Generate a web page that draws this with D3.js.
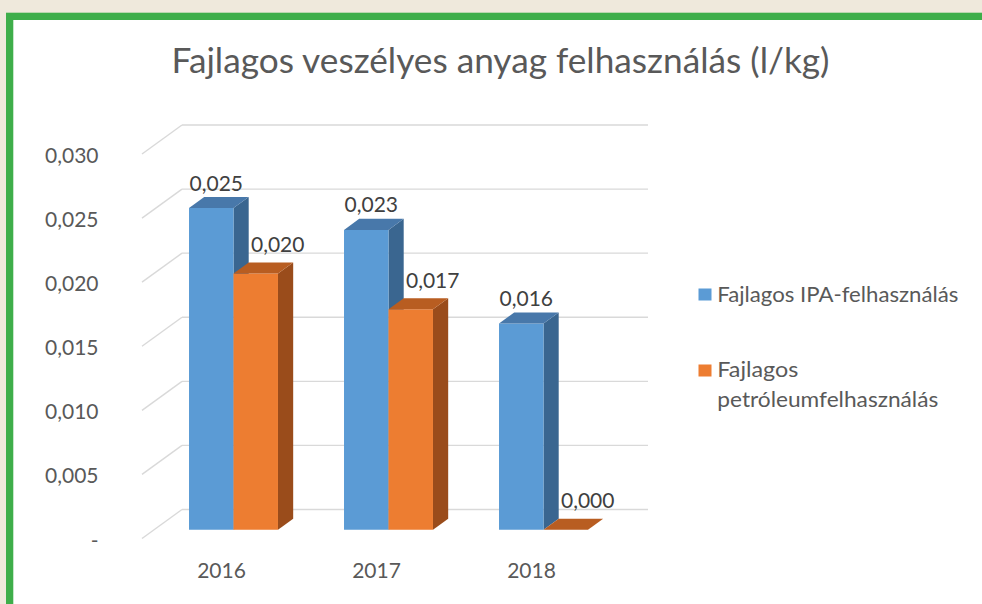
<!DOCTYPE html>
<html>
<head>
<meta charset="utf-8">
<script src="https://cdn.jsdelivr.net/npm/d3@7"></script>
<style>
  html, body { margin: 0; padding: 0; background: #efe9dc; }
  svg { display: block; }
  text { font-family: Lato, "Open Sans", sans-serif; }
</style>
</head>
<body>
<svg id="chart" width="982" height="604"></svg>
<script>
// ---- data ----
const title = "Fajlagos veszélyes anyag felhasználás (l/kg)";
const categories = ["2016", "2017", "2018"];
const seriesKeys = ["ipa", "petroleum"];
const seriesNames = ["Fajlagos IPA-felhasználás", "Fajlagos petróleumfelhasználás"];
const ipaValues = [0.0251, 0.0234, 0.0161];
const petroleumValues = [0.0200, 0.0172, 0.0000];
const tickValues = [0, 0.005, 0.010, 0.015, 0.020, 0.025, 0.030];
const tickLabels = ["-", "0,005", "0,010", "0,015", "0,020", "0,025", "0,030"];

// ---- style ----
const colors = {
  ipa: { front: "#5b9bd5", top: "#4878aa", side: "#3a6690" },
  petroleum: { front: "#ed7d31", top: "#b85d21", side: "#9a4c1b" }
};
const labelOffset = { ipa: { dx: 5, dy: -6.5 }, petroleum: { dx: 22, dy: -10.5 } };
const DX = -40, DY = 29;      // projection of unit depth
const dFront = 0.70, dBack = 0.32;

const svg = d3.select("#chart");

// background + frame
svg.append("rect").attr("x", 0).attr("y", 0).attr("width", 982).attr("height", 604).attr("fill", "#efe9dc");
svg.append("rect").attr("x", 6).attr("y", 12.7).attr("width", 1000).attr("height", 700).attr("fill", "#3eae4a");
svg.append("rect").attr("x", 13.3).attr("y", 20).attr("width", 1000).attr("height", 700).attr("fill", "#ffffff");

// scales
const y = d3.scaleLinear().domain([0, 0.030]).range([509.5, 125]);
const x = d3.scaleBand().domain(categories).range([184, 649]).paddingInner(0.426).paddingOuter(0.213);
const xs = d3.scaleBand().domain(seriesKeys).range([0, x.bandwidth()]);
const wallLeft = 182, wallRight = 648;
const proj = (px, py, d) => [px + DX * d, py + DY * d];

// title
svg.append("text")
  .attr("x", 171.5).attr("y", 73.3)
  .attr("font-size", 35).attr("fill", "#595959")
  .attr("textLength", 658).attr("lengthAdjust", "spacingAndGlyphs")
  .text(title);

// gridlines (back wall + side wall diagonals)
const grid = svg.append("g").attr("stroke", "#d9d9d9").attr("stroke-width", 1.4).attr("fill", "none");
tickValues.forEach(v => {
  grid.append("line").attr("x1", wallLeft).attr("x2", wallRight).attr("y1", y(v)).attr("y2", y(v));
  const f = proj(wallLeft, y(v), 1);
  grid.append("line").attr("x1", wallLeft).attr("y1", y(v)).attr("x2", f[0]).attr("y2", f[1]);
});

// y-axis labels
svg.append("g").selectAll("text").data(tickValues).join("text")
  .attr("x", 98.5)
  .attr("y", v => proj(wallLeft, y(v), 1)[1] + 9)
  .attr("text-anchor", "end")
  .attr("font-size", 21).attr("fill", "#595959")
  .text((v, i) => tickLabels[i]);

// category labels
svg.append("g").selectAll("text").data(categories).join("text")
  .attr("x", c => proj(x(c) + x.bandwidth() / 2, y(0), 1)[0])
  .attr("y", 578)
  .attr("text-anchor", "middle")
  .attr("font-size", 21).attr("fill", "#595959")
  .text(c => c);

// bars
const seriesValues = { ipa: ipaValues, petroleum: petroleumValues };
const fmt = v => d3.format(".3f")(v).replace(".", ",");
const pts = arr => arr.map(p => p.join(",")).join(" ");
const barsG = svg.append("g");
const labelsG = svg.append("g");

categories.forEach((c, ci) => {
  seriesKeys.forEach(k => {
    const v = seriesValues[k][ci];
    const x0 = x(c) + xs(k), x1 = x0 + xs.bandwidth();
    const yv = y(v), y0 = y(0);
    const col = colors[k];
    const g = barsG.append("g");
    // side face
    g.append("polygon").attr("fill", col.side)
      .attr("points", pts([proj(x1, yv, dFront), proj(x1, yv, dBack), proj(x1, y0, dBack), proj(x1, y0, dFront)]));
    // front face
    g.append("polygon").attr("fill", col.front)
      .attr("points", pts([proj(x0, yv, dFront), proj(x1, yv, dFront), proj(x1, y0, dFront), proj(x0, y0, dFront)]));
    // top face
    g.append("polygon").attr("fill", col.top)
      .attr("points", pts([proj(x0, yv, dFront), proj(x1, yv, dFront), proj(x1, yv, dBack), proj(x0, yv, dBack)]));
    // value label
    const fc = proj((x0 + x1) / 2, yv, dFront)[0];
    const bt = proj(x0, yv, dBack)[1];
    labelsG.append("text")
      .attr("x", fc + labelOffset[k].dx)
      .attr("y", bt + labelOffset[k].dy)
      .attr("text-anchor", "middle")
      .attr("font-size", 21).attr("fill", "#404040")
      .text(fmt(v));
  });
});

// legend
const legend = svg.append("g");
const legendItems = [
  { key: "ipa", lines: [seriesNames[0]], sq: 288.5, base: 301.7, widths: [241] },
  { key: "petroleum", lines: ["Fajlagos", "petróleumfelhasználás"], sq: 364.5, base: 377.3, widths: [81, 221] }
];
legendItems.forEach(it => {
  legend.append("rect").attr("x", 698.5).attr("y", it.sq).attr("width", 13).attr("height", 12)
    .attr("fill", colors[it.key].front);
  it.lines.forEach((ln, li) => {
    legend.append("text")
      .attr("x", 717.3).attr("y", it.base + li * 30)
      .attr("font-size", 21).attr("fill", "#595959")
      .attr("textLength", it.widths[li]).attr("lengthAdjust", "spacingAndGlyphs")
      .text(ln);
  });
});
</script>
</body>
</html>
